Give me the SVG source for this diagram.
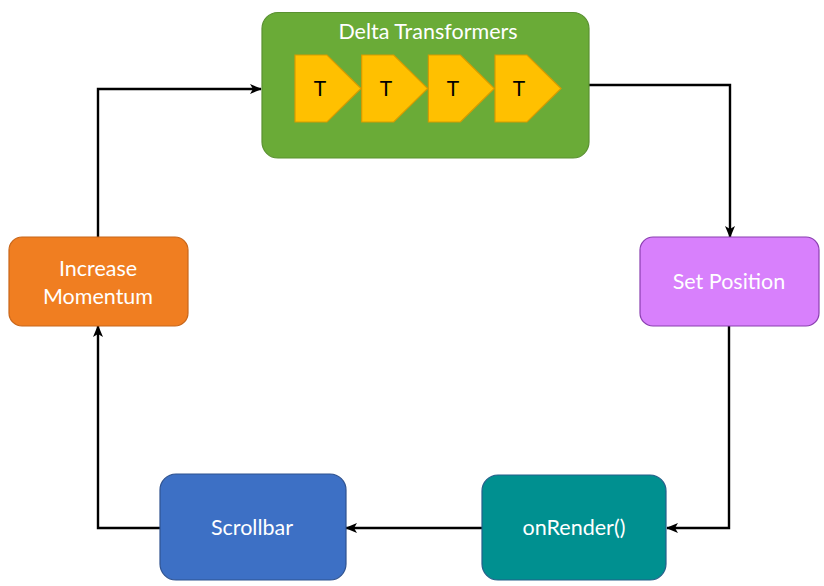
<svg xmlns="http://www.w3.org/2000/svg" width="824" height="586" viewBox="0 0 824 586">
<defs>
<style>
.lbl{font-family:Lato,"Open Sans","Liberation Sans",sans-serif;font-size:21.5px;fill:#ffffff;text-anchor:middle}
.t{font-family:Lato,"Open Sans","Liberation Sans",sans-serif;font-size:21px;fill:#000000;text-anchor:middle}
.conn{fill:none;stroke:#000000;stroke-width:2.4}
.pent{fill:#FFC000;stroke:#D69B00;stroke-width:1.2}
</style>
<marker id="arr" viewBox="0 0 12 12" refX="11" refY="6" markerWidth="12" markerHeight="12" markerUnits="userSpaceOnUse" orient="auto">
<path d="M0,1 L12,6 L0,11 L3,6 Z" fill="#000000"/>
</marker>
</defs>
<rect width="824" height="586" fill="#ffffff"/>
<g id="connectors">
<path class="conn" d="M98,238 V89 H261" marker-end="url(#arr)"/>
<path class="conn" d="M589,85 H730 V237" marker-end="url(#arr)"/>
<path class="conn" d="M729,326 V528 H667" marker-end="url(#arr)"/>
<path class="conn" d="M482,528 H346" marker-end="url(#arr)"/>
<path class="conn" d="M160,528 H98 V326" marker-end="url(#arr)"/>
</g>
<g id="delta-transformers">
<rect x="262" y="12.5" width="327" height="145.5" rx="16" fill="#6AAB37" stroke="#5A9131" stroke-width="1.2"/>
<text class="lbl" x="428" y="39">Delta Transformers</text>
<g id="t1"><path class="pent" d="M295,55 H327 L361,88.5 L327,122 H295 Z"/><text class="t" x="320" y="96">T</text></g>
<g id="t2"><path class="pent" d="M361.7,55 H393.7 L427.7,88.5 L393.7,122 H361.7 Z"/><text class="t" x="386" y="96">T</text></g>
<g id="t3"><path class="pent" d="M428.4,55 H460.4 L494.4,88.5 L460.4,122 H428.4 Z"/><text class="t" x="453" y="96">T</text></g>
<g id="t4"><path class="pent" d="M495,55 H527 L561,88.5 L527,122 H495 Z"/><text class="t" x="519" y="96">T</text></g>
</g>
<g id="set-position">
<rect x="640" y="237" width="179" height="89" rx="13" fill="#D880FC" stroke="#8A3FB0" stroke-width="1.2"/>
<text class="lbl" x="729" y="289">Set Position</text>
</g>
<g id="onrender">
<rect x="482" y="475" width="184" height="105" rx="16" fill="#009090" stroke="#245F8A" stroke-width="1.2"/>
<text class="lbl" x="574" y="535">onRender()</text>
</g>
<g id="scrollbar">
<rect x="160" y="474" width="186" height="106" rx="16" fill="#3D70C5" stroke="#2F528F" stroke-width="1.2"/>
<text class="lbl" x="252" y="535">Scrollbar</text>
</g>
<g id="increase-momentum">
<rect x="9" y="237" width="179" height="89" rx="13" fill="#F07E21" stroke="#C8661A" stroke-width="1.2"/>
<text class="lbl" x="98" y="276">Increase</text>
<text class="lbl" x="98" y="304">Momentum</text>
</g>
</svg>
